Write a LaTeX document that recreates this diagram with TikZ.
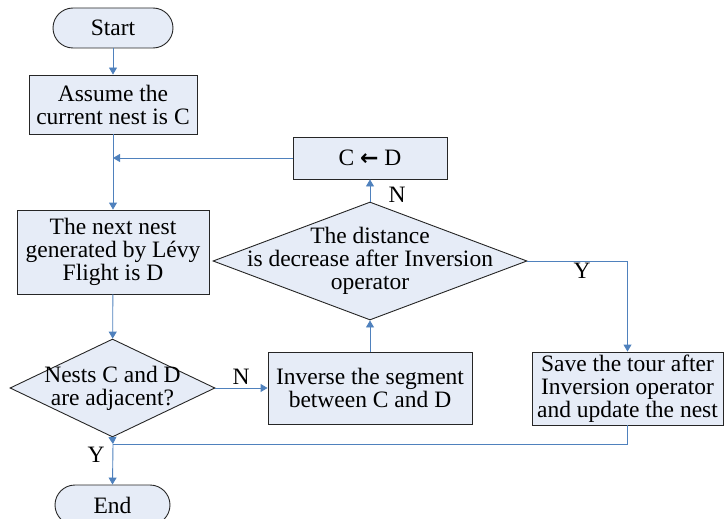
\documentclass[tikz,border=0pt]{standalone}
\usepackage{fontspec}
\setmainfont{Liberation Serif}
\newfontfamily\symfnt{DejaVu Sans}
\usetikzlibrary{arrows.meta,shapes.geometric}
\definecolor{boxfill}{RGB}{230,236,247}
\definecolor{lineblue}{RGB}{79,129,189}
\begin{document}
\begin{tikzpicture}[x=1pt,y=-1pt,
  font=\fontsize{23.5}{23}\selectfont,
  boxnode/.style={draw=black!85, fill=boxfill, line width=0.9pt, align=center, inner sep=0pt},
  termnode/.style={boxnode, rounded corners=20pt},
  decnode/.style={draw=black!85, fill=boxfill, line width=0.9pt, shape=diamond, inner sep=0pt, aspect=1},
  txtnode/.style={align=center, inner sep=0pt},
  flow/.style={draw=lineblue, line width=0.9pt},
  arr/.style={flow, -{Triangle[length=7pt,width=8pt]}}]
\useasboundingbox (0,0) rectangle (724,519);
\clip (0,0) rectangle (724,519);
% nodes
\node[termnode, minimum width=120pt, minimum height=40pt] (start) at (113,28) {Start};
\node[boxnode, minimum width=168pt, minimum height=59pt] (assume) at (113,104.5) {Assume the\\current nest is C};
\node[boxnode, minimum width=192pt, minimum height=84pt] (next) at (113,252) {The next nest\\generated by Lévy\\Flight is D};
\node[boxnode, minimum width=154pt, minimum height=42pt] (cd) at (370,158) {C {\symfnt\fontsize{22}{22}\selectfont\bfseries ←} D};
\node[decnode, minimum width=314pt, minimum height=118pt] (dist) at (370,261) {};
\node[txtnode] (disttxt) at (370,261) {The distance\\is decrease after Inversion\\operator};
\node[decnode, minimum width=205pt, minimum height=98pt] (adj) at (112.5,388) {};
\node[txtnode] (adjtxt) at (112.5,388) {Nests C and D\\are adjacent?};
\node[boxnode, minimum width=204pt, minimum height=72pt] (inv) at (370,388) {Inverse the segment\\between C and D};
\node[boxnode, minimum width=191pt, minimum height=73pt] (save) at (627.5,388.5) {Save the tour after\\Inversion operator\\and update the nest};
\node[termnode, minimum width=115pt, minimum height=40pt] (end) at (112.5,505) {End};
% junctions
\coordinate (j1) at (113,158);
\coordinate (j2) at (113,444);
% labels
\node[txtnode] (lN1) at (397,195) {N};
\node[txtnode] (lN2) at (241,377) {N};
\node[txtnode] (lY1) at (582,271) {Y};
\node[txtnode] (lY2) at (96,455) {Y};
% connectors
\draw[arr] (start) -- (assume);
\draw[arr] (assume) -- (next);
\draw[arr] (cd.west) -- (j1);
\draw[arr] (dist.north) -- (cd.south);
\draw[arr] (inv.north) -- (dist.south);
\draw[arr] (next) -- (adj);
\draw[arr] (adj.east) -- (inv.west);
\draw[arr] (dist.east) -| (save.north);
\draw[flow] (save.south) |- (j2);
\draw[arr] (adj.south) -- (j2);
\draw[arr] (j2) -- (end.north);
\end{tikzpicture}
\end{document}
